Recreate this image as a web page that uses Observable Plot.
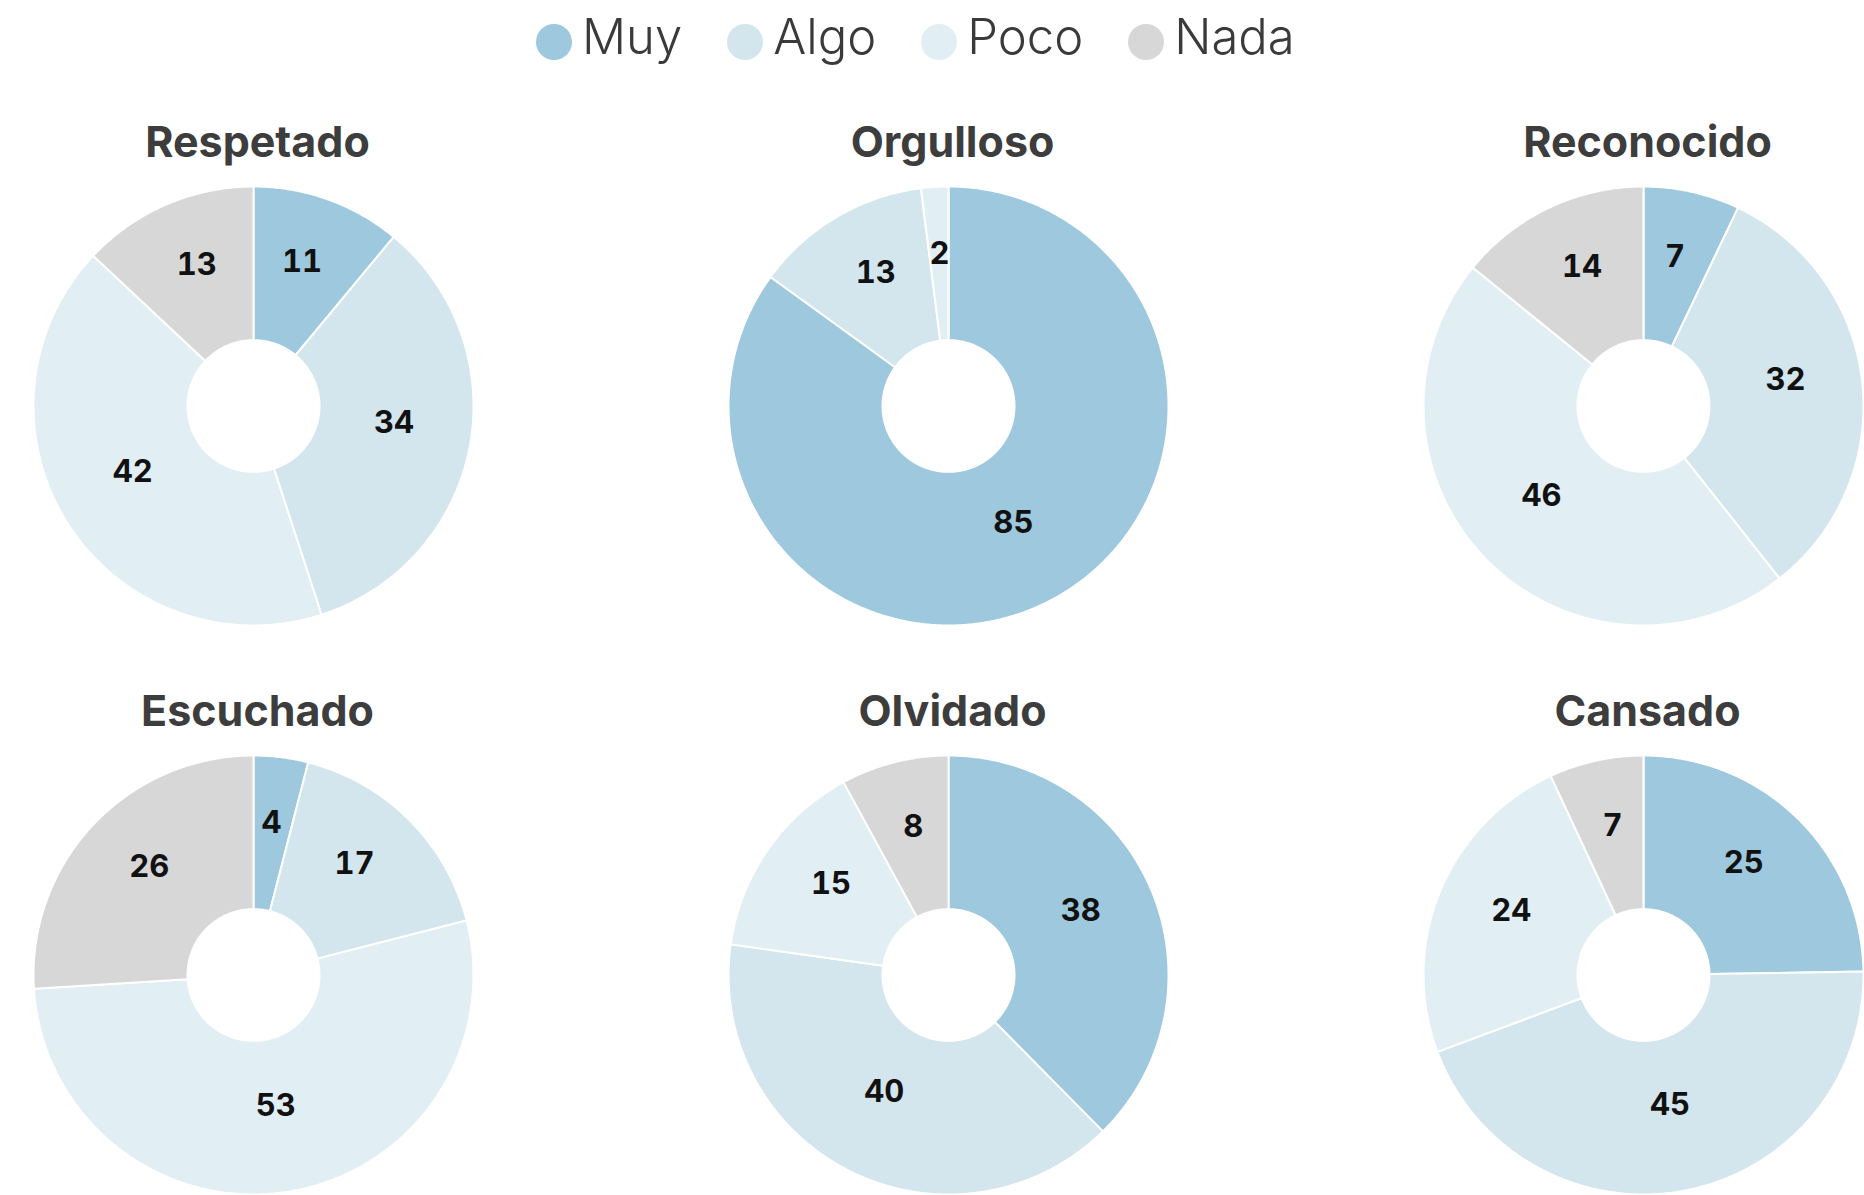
<!DOCTYPE html>
<html><head><meta charset="utf-8">
<script src="https://cdn.jsdelivr.net/npm/d3@7"></script>
<script src="https://cdn.jsdelivr.net/npm/@observablehq/plot@0.6"></script>
<style>
body{margin:0;background:#fff;font-family:Inter,sans-serif;}
#legend{height:88px;display:flex;align-items:flex-start;padding-left:536px;padding-top:12px;box-sizing:border-box;}
.item{display:flex;align-items:center;margin-right:45px;}
.sw{width:36px;height:36px;border-radius:50%;margin-right:10px;position:relative;top:5px}
.lab{font-size:49px;font-weight:300;color:#3a3a3a;line-height:50px;height:50px}
#chart svg{display:block}
</style></head><body>
<div id="legend"></div>
<div id="chart"></div>
<script>
const items = ["Respetado","Orgulloso","Reconocido","Escuchado","Olvidado","Cansado"];
const categories = ["Muy","Algo","Poco","Nada"];
const muy  = [11, 85,  7,  4, 38, 25];
const algo = [34, 13, 32, 17, 40, 45];
const poco = [42,  2, 46, 53, 15, 24];
const nada = [13,  0, 14, 26,  8,  7];
const colors = ["#9dc8dd","#d3e6ed","#e1eff5","#d7d7d7"];

// legend
const leg = d3.select("#legend");
categories.forEach((c,k)=>{
  const it = leg.append("div").attr("class","item");
  it.append("div").attr("class","sw").style("background",colors[k]);
  it.append("div").attr("class","lab").text(c);
});

// build slice geometry from the values
const rows = items.map((name,i)=>({name, col:i%3, row:Math.floor(i/3), values:[muy[i],algo[i],poco[i],nada[i]]}));
const pie = d3.pie().sort(null).value(d=>d.value);
const R0 = 0.3, R1 = 1;
const polys = [], labels = [];
rows.forEach(r=>{
  const arcs = pie(categories.map((c,k)=>({cat:c, value:r.values[k]})));
  arcs.forEach(a=>{
    if (a.data.value <= 0) return;
    const id = r.name + "-" + a.data.cat;
    const span = a.endAngle - a.startAngle;
    const n = Math.max(2, Math.ceil(span / (Math.PI/360)));
    for (let j=0;j<=n;j++){ const t=a.startAngle+span*j/n; polys.push({id, cat:a.data.cat, col:r.col, row:r.row, x:R1*Math.sin(t), y:R1*Math.cos(t)}); }
    for (let j=n;j>=0;j--){ const t=a.startAngle+span*j/n; polys.push({id, cat:a.data.cat, col:r.col, row:r.row, x:R0*Math.sin(t), y:R0*Math.cos(t)}); }
    const m=(a.startAngle+a.endAngle)/2, rc=(R0+R1)/2;
    labels.push({col:r.col, row:r.row, value:a.data.value, x:rc*Math.sin(m), y:rc*Math.cos(m)});
  });
});

const chart = Plot.plot({
  width: 1864, height: 1107,
  marginTop: 0, marginRight: 0, marginBottom: 0, marginLeft: 0,
  style: {fontFamily: "Inter, sans-serif", background: "#fff"},
  fx: {domain:[0,1,2], range:[33,1863], paddingInner:0.36691, paddingOuter:0, axis:null},
  fy: {domain:[0,1], range:[97,1107], paddingInner:0.22807, paddingOuter:0, axis:null},
  x: {domain:[-1,1], axis:null},
  y: {domain:[-1,1], axis:null},
  color: {domain: categories, range: colors},
  marks: [
    Plot.line(polys, {fx:"col", fy:"row", x:"x", y:"y", z:"id", fill:"cat", stroke:"white", strokeWidth:2, strokeLinejoin:"round", curve:"linear-closed"}),
    Plot.text(labels, {fx:"col", fy:"row", x:"x", y:"y", text:"value", fontSize:31, fontWeight:700, fill:"#111", lineAnchor:"bottom"}),
    Plot.text(rows, {fx:"col", fy:"row", text:"name", frameAnchor:"top", dy:-60, dx:4, fontSize:43, fontWeight:700, fill:"#3d3d3d"})
  ]
});
document.getElementById("chart").appendChild(chart);
</script>
</body></html>
